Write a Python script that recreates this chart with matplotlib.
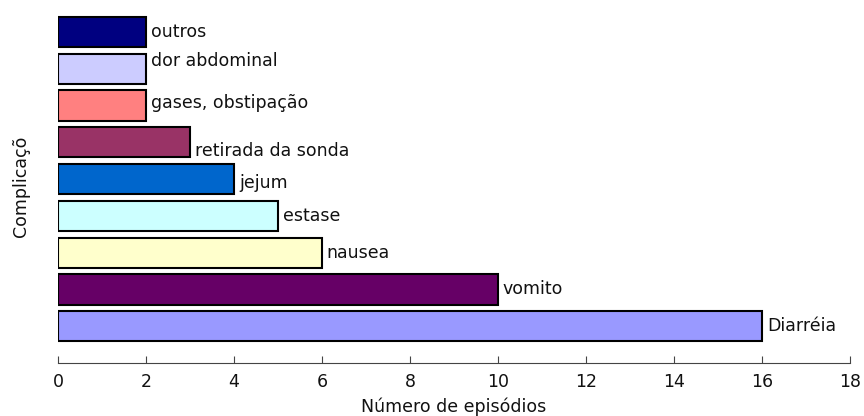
import matplotlib
matplotlib.use("Agg")
import matplotlib.pyplot as plt

categories = ["Diarréia", "vomito", "nausea", "estase", "jejum",
              "retirada da sonda", "gases, obstipação", "dor abdominal", "outros"]
values = [16, 10, 6, 5, 4, 3, 2, 2, 2]
colors = ["#9999FF", "#660066", "#FFFFCC", "#CCFFFF", "#0066CC",
          "#993366", "#FF8080", "#CCCCFF", "#000080"]
label_dy = [0, 0, 0, 0, -3, -6, 2, 5.5, 0]   # vertical nudges (points) of the bar labels
xticks = [0, 2, 4, 6, 8, 10, 12, 14, 16, 18]

plt.rcParams['font.family'] = ['DejaVu Sans']

fig = plt.figure(figsize=(8.64, 4.16), dpi=100)
ax = fig.add_axes([0.0671, 0.1274, 0.9167, 0.849])

ypos = list(range(len(categories)))
ax.barh(ypos, values, height=0.82, color=colors, edgecolor="black", linewidth=1.5, zorder=3)

for y, v, c, dy in zip(ypos, values, categories, label_dy):
    ax.annotate(c, xy=(v, y), xytext=(3.5, dy), textcoords="offset points",
                ha="left", va="center", fontsize=12.5, color="#111111")

ax.set_xlim(0, 18)
ax.set_ylim(-1.0, 8.6)
ax.set_xticks(xticks)
ax.set_xticklabels([str(t) for t in xticks], fontsize=12.5, color="#111111")
ax.set_yticks([])
ax.tick_params(axis="x", direction="in", length=5, width=0.8, color="#444444", pad=7)

for s in ["top", "right", "left"]:
    ax.spines[s].set_visible(False)
ax.spines["bottom"].set_color("#444444")
ax.spines["bottom"].set_linewidth(0.8)

ax.set_xlabel("Número de episódios", fontsize=12.5, labelpad=5, color="#111111")
fig.text(0.024, 0.552, "Complicaçõ", rotation=90, fontsize=12.5, ha="center", va="center",
         color="#111111")

fig.savefig("out.png", dpi=100)
